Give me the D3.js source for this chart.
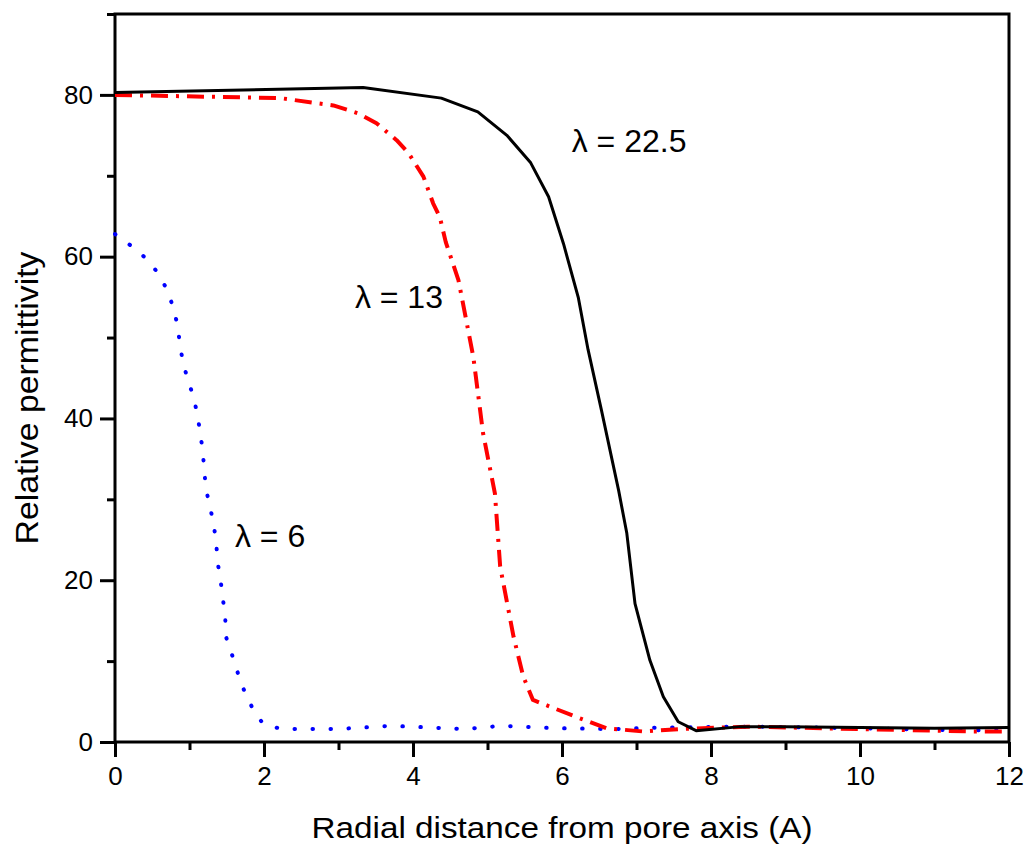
<!DOCTYPE html>
<html>
<head>
<meta charset="utf-8">
<script src="https://cdn.jsdelivr.net/npm/d3@7"></script>
<style>
  body { margin: 0; background: #fff; }
  text { font-family: "Liberation Sans", Arial, sans-serif; fill: #000; }
</style>
</head>
<body>
<div id="chart"></div>
<script>
(function(){

const width = 1032;
const height = 850;
const margin = {top:14, right:23, bottom:108, left:115};

// lambda = 22.5 (solid black)
const xBlack = [0, 3.33, 4.38, 4.87, 5.26, 5.58, 5.82, 6.02, 6.22, 6.35, 6.53, 6.76, 6.87, 6.98, 7.18, 7.36, 7.56, 7.8, 8.4, 9, 10, 11, 12];
const yBlack = [80.3, 80.9, 79.6, 77.9, 75.0, 71.6, 67.4, 61.6, 54.9, 48.5, 41.0, 31.1, 25.8, 17.1, 10.1, 5.6, 2.5, 1.4, 1.9, 1.9, 1.8, 1.7, 1.8];

// lambda = 13 (red dash-dot)
const xRed = [0, 2.22, 2.93, 3.27, 3.51, 3.78, 3.94, 4.14, 4.27, 4.36, 4.44, 4.61, 4.81, 4.94, 5.10, 5.17, 5.35, 5.48, 5.61, 6.19, 6.6, 7.09, 7.58, 8.5, 9.5, 10.5, 11.5, 12];
const yRed = [80.0, 79.6, 78.7, 77.7, 76.5, 74.4, 72.8, 69.9, 66.6, 64.9, 61.8, 57.1, 47.6, 38.2, 30.7, 21.7, 13.0, 8.1, 5.2, 3.1, 1.7, 1.3, 1.6, 1.9, 1.7, 1.5, 1.3, 1.3];

// lambda = 6 (blue dotted)
const xBlue = [0, 0.34, 0.55, 0.69, 0.78, 0.84, 0.87, 0.91, 0.98, 1.06, 1.11, 1.15, 1.18, 1.2, 1.22, 1.28, 1.33, 1.36, 1.38, 1.42, 1.45, 1.48, 1.49, 1.57, 1.65, 1.74, 1.85, 1.99, 2.24, 2.98, 3.71, 4.7, 5.19, 5.93, 6.69, 7.4, 8.5, 10, 11, 12];
const yBlue = [62.8, 60.5, 58.3, 56.1, 53.8, 51.5, 49.3, 47.0, 44.7, 42.5, 40.2, 37.9, 35.7, 33.4, 31.3, 28.9, 26.6, 24.4, 22.1, 19.8, 17.6, 15.3, 13.0, 10.8, 8.5, 6.2, 4.1, 2.2, 1.6, 1.6, 2.0, 1.6, 2.0, 1.7, 1.6, 1.8, 1.9, 1.7, 1.5, 1.4];

// ticks
const xMajor = [0, 2, 4, 6, 8, 10, 12];
const xMinor = [1, 3, 5, 7, 9, 11];
const yMajor = [0, 20, 40, 60, 80];
const yMinor = [10, 30, 50, 70, 90];

// curve labels
const labelText = ["\u03BB = 22.5", "\u03BB = 13", "\u03BB = 6"];
const labelX = [6.13, 3.22, 1.61];
const labelY = [72.9, 53.6, 24.1];

const svg = d3.select("#chart")
  .append("svg")
  .attr("width", width)
  .attr("height", height);

const x = d3.scaleLinear()
  .domain([0, 12])
  .range([margin.left, width - margin.right]);

const y = d3.scaleLinear()
  .domain([0, 90])
  .range([height - margin.bottom, margin.top]);

// minor ticks
svg.append("g")
  .attr("transform", `translate(0,${height - margin.bottom})`)
  .call(d3.axisBottom(x).tickValues(xMinor).tickSize(8).tickFormat(""))
  .call(g => g.select(".domain").remove())
  .call(g => g.selectAll("line").attr("stroke-width", 3));

svg.append("g")
  .attr("transform", `translate(${margin.left},0)`)
  .call(d3.axisLeft(y).tickValues(yMinor).tickSize(8).tickFormat(""))
  .call(g => g.select(".domain").remove())
  .call(g => g.selectAll("line").attr("stroke-width", 3));

// X axis
svg.append("g")
  .attr("transform", `translate(0,${height - margin.bottom})`)
  .call(d3.axisBottom(x).tickValues(xMajor).tickSize(15).tickPadding(10))
  .call(g => g.select(".domain").remove())
  .call(g => g.selectAll("line").attr("stroke-width", 3))
  .call(g => g.selectAll("text")
    .style("font-size", "26px")
    .style("font-family", "'Liberation Sans', Arial, sans-serif"));

// Y axis
svg.append("g")
  .attr("transform", `translate(${margin.left},0)`)
  .call(d3.axisLeft(y).tickValues(yMajor).tickSize(15).tickPadding(7))
  .call(g => g.select(".domain").remove())
  .call(g => g.selectAll("line").attr("stroke-width", 3))
  .call(g => g.selectAll("text")
    .style("font-size", "26px")
    .style("font-family", "'Liberation Sans', Arial, sans-serif"));

// frame
svg.append("rect")
  .attr("x", margin.left)
  .attr("y", margin.top)
  .attr("width", width - margin.left - margin.right)
  .attr("height", height - margin.top - margin.bottom)
  .attr("fill", "none")
  .attr("stroke", "#000")
  .attr("stroke-width", 3);

// Axis labels
svg.append("text")
  .attr("x", 562)
  .attr("y", 838)
  .attr("text-anchor", "middle")
  .attr("textLength", 501)
  .attr("lengthAdjust", "spacingAndGlyphs")
  .style("font-size", "30px")
  .text("Radial distance from pore axis (A)");

svg.append("text")
  .attr("transform", "rotate(-90)")
  .attr("x", -398)
  .attr("y", 38)
  .attr("text-anchor", "middle")
  .attr("textLength", 293)
  .attr("lengthAdjust", "spacingAndGlyphs")
  .style("font-size", "31px")
  .text("Relative permittivity");

// lines
const line = d3.line()
  .x(d => x(d[0]))
  .y(d => y(d[1]));

const series = [
  {xs: xBlue,  ys: yBlue,  color: "#0000ff", w: 4, dash: "0.5,17.5", cap: "round"},
  {xs: xRed,   ys: yRed,   color: "#ff0000", w: 4, dash: "17,8,3,8", cap: "butt"},
  {xs: xBlack, ys: yBlack, color: "#000000", w: 3, dash: null, cap: "butt"}
];

svg.selectAll(".curve")
  .data(series)
  .enter()
  .append("path")
  .attr("class", "curve")
  .attr("d", d => line(d.xs.map((v, i) => [v, d.ys[i]])))
  .attr("fill", "none")
  .attr("stroke", d => d.color)
  .attr("stroke-width", d => d.w)
  .attr("stroke-dasharray", d => d.dash)
  .attr("stroke-linecap", d => d.cap)
  .attr("stroke-linejoin", "round");

// curve labels
svg.selectAll(".lbl")
  .data(labelText)
  .enter()
  .append("text")
  .attr("class", "lbl")
  .attr("x", (d, i) => x(labelX[i]))
  .attr("y", (d, i) => y(labelY[i]))
  .style("font-size", "32px")
  .text(d => d);

})();
</script>
</body>
</html>
